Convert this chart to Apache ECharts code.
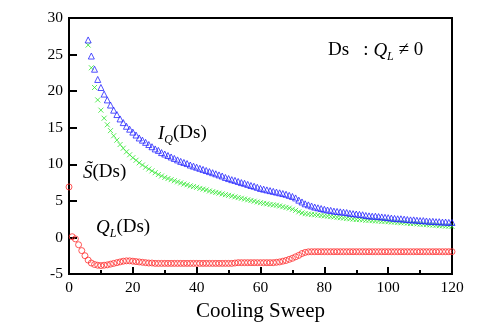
<!DOCTYPE html>
<html>
<head>
<meta charset="utf-8">
<script src="https://cdn.jsdelivr.net/npm/echarts@6/dist/echarts.min.js"></script>
<style>
  html,body{margin:0;padding:0;background:#fff;}
  #chart{width:491px;height:327px;}
</style>
</head>
<body>
<div id="chart"></div>
<script>
// ---- data ----
const qlStart = 0;
const qlVals = [
  6.9, 0.1, -0.2, -1.0, -1.8, -2.5, -3.1, -3.5, -3.7, -3.8,
  -3.85, -3.8, -3.75, -3.65, -3.55, -3.45, -3.35, -3.25, -3.2, -3.2,
  -3.25, -3.3, -3.35, -3.4, -3.45, -3.5, -3.5, -3.55, -3.55, -3.55,
  -3.55, -3.55, -3.55, -3.55, -3.55, -3.55, -3.55, -3.55, -3.55, -3.55,
  -3.55, -3.55, -3.55, -3.55, -3.55, -3.55, -3.55, -3.55, -3.55, -3.55,
  -3.55, -3.55, -3.5, -3.45, -3.45, -3.45, -3.45, -3.45, -3.45, -3.45,
  -3.45, -3.45, -3.45, -3.45, -3.45, -3.4, -3.35, -3.25, -3.15, -3.0,
  -2.85, -2.65, -2.45, -2.2, -2.05, -1.97, -1.95, -1.95, -1.95, -1.95,
  -1.95, -1.95, -1.95, -1.95, -1.95, -1.95, -1.95, -1.95, -1.95, -1.95,
  -1.95, -1.95, -1.95, -1.95, -1.95, -1.95, -1.95, -1.95, -1.95, -1.95,
  -1.95, -1.95, -1.95, -1.95, -1.95, -1.95, -1.95, -1.95, -1.95, -1.95,
  -1.95, -1.95, -1.95, -1.95, -1.95, -1.95, -1.95, -1.95, -1.95, -1.95,
  -1.95
];
const iqStart = 6;
const iqVals = [
  27.0, 24.8, 23.0, 21.6,
  20.5, 19.6, 18.8, 18.1, 17.4, 16.8, 16.2, 15.7, 15.2, 14.8,
  14.4, 14.0, 13.6, 13.3, 13.0, 12.7, 12.4, 12.1, 11.9, 11.6,
  11.4, 11.2, 11.0, 10.8, 10.6, 10.4, 10.25, 10.1, 9.9, 9.75,
  9.6, 9.45, 9.3, 9.15, 9.0, 8.85, 8.7, 8.55, 8.4, 8.2,
  8.05, 7.9, 7.8, 7.65, 7.5, 7.4, 7.25, 7.1, 7.0, 6.85,
  6.7, 6.6, 6.5, 6.4, 6.3, 6.2, 6.1, 6.0, 5.9, 5.75,
  5.6, 5.4, 5.1, 4.85, 4.6, 4.45, 4.3, 4.15, 4.05, 3.95,
  3.85, 3.75, 3.7, 3.6, 3.55, 3.5, 3.45, 3.4, 3.3, 3.25,
  3.2, 3.15, 3.1, 3.0, 2.95, 2.9, 2.9, 2.85, 2.8, 2.75,
  2.7, 2.65, 2.6, 2.55, 2.55, 2.5, 2.45, 2.4, 2.4, 2.35,
  2.3, 2.3, 2.25, 2.2, 2.2, 2.15, 2.15, 2.1, 2.1, 2.05,
  2.05
];
const sStart = 6;
const sVals = [
  26.3, 23.2, 20.5, 18.8,
  17.4, 16.3, 15.4, 14.6, 13.9, 13.3, 12.7, 12.2, 11.7, 11.3,
  10.9, 10.55, 10.2, 9.9, 9.6, 9.35, 9.1, 8.85, 8.6, 8.4,
  8.2, 8.05, 7.9, 7.75, 7.6, 7.45, 7.3, 7.2, 7.05, 6.95,
  6.85, 6.7, 6.6, 6.5, 6.35, 6.25, 6.15, 6.05, 5.95, 5.85,
  5.75, 5.65, 5.55, 5.45, 5.35, 5.25, 5.15, 5.05, 4.95, 4.85,
  4.75, 4.65, 4.6, 4.5, 4.45, 4.4, 4.3, 4.2, 4.1, 4.0,
  3.85, 3.7, 3.5, 3.35, 3.25, 3.2, 3.15, 3.1, 3.05, 3.0,
  2.95, 2.9, 2.85, 2.8, 2.75, 2.7, 2.65, 2.6, 2.55, 2.5,
  2.45, 2.45, 2.4, 2.35, 2.35, 2.3, 2.25, 2.25, 2.2, 2.2,
  2.15, 2.1, 2.1, 2.05, 2.0, 2.0, 1.95, 1.9, 1.9, 1.85,
  1.8, 1.8, 1.75, 1.7, 1.7, 1.65, 1.6, 1.6, 1.55, 1.55,
  1.5
];

const FONT = '"Liberation Serif", "DejaVu Serif", serif';
const BLUE = '#2626ff', GREEN = '#2ee62e', RED = '#ff3030';
const CROSS = 'path://M0,0L10,10M10,0L0,10';

const pairs = (start, vals) => vals.map((v, i) => [start + i, v]);

function scatter(name, data, symbol, size, color){
  return {
    name, type:'scatter', data, symbol, symbolSize:size,
    itemStyle:{color:'none', borderColor:color, borderWidth:1},
    emphasis:{disabled:true}, silent:true
  };
}

// main text centred on the line, subscripts pushed to its bottom
const rich = {
  i:{fontFamily:FONT, fontStyle:'italic', fontSize:19, lineHeight:24, verticalAlign:'middle', fill:'#000'},
  n:{fontFamily:FONT, fontSize:19, lineHeight:24, verticalAlign:'middle', fill:'#000'},
  sub:{fontFamily:FONT, fontStyle:'italic', fontSize:12, lineHeight:12, verticalAlign:'bottom', fill:'#000'}
};
function label(x, y, text){
  return {type:'text', left:x, top:y, silent:true, style:{text, rich, fill:'#000'}};
}

const chart = echarts.init(document.getElementById('chart'), null, {renderer:'canvas'});
chart.setOption({
  animation:false,
  textStyle:{fontFamily:FONT},
  grid:{left:69, right:39, top:18, bottom:53, outerBoundsMode:'none', containLabel:false,
        show:true, borderColor:'#000', borderWidth:2, backgroundColor:'transparent'},
  xAxis:{
    type:'value', min:0, max:120, interval:20,
    name:'Cooling Sweep', nameLocation:'middle', nameGap:27,
    nameTextStyle:{fontFamily:FONT, fontSize:21, color:'#000'},
    axisLine:{onZero:false, lineStyle:{color:'#000', width:2}},
    axisTick:{inside:true, length:7, lineStyle:{color:'#000', width:2}},
    minorTick:{show:true, splitNumber:2, length:4, lineStyle:{color:'#000', width:2}},
    axisLabel:{fontFamily:FONT, fontSize:15.5, color:'#000', margin:6},
    splitLine:{show:false}
  },
  yAxis:{
    type:'value', min:-5, max:30, interval:5,
    axisLine:{show:true, onZero:false, lineStyle:{color:'#000', width:2}},
    axisTick:{show:true, inside:true, length:8, lineStyle:{color:'#000', width:2}},
    axisLabel:{fontFamily:FONT, fontSize:15.5, color:'#000', margin:6},
    splitLine:{show:false}
  },
  series:[
    scatter('QL', pairs(qlStart, qlVals), 'circle', 6, RED),
    scatter('S', pairs(sStart, sVals), CROSS, 5, GREEN),
    scatter('IQ', pairs(iqStart, iqVals), 'triangle', 6, BLUE)
  ],
  graphic:[
    label(158, 124, '{i|I}{sub|Q}{n|(Ds)}'),
    label(83, 163, '{i|S\u0303}{n|(Ds)}'),
    label(96, 218, '{i|Q}{sub|L}{n|(Ds)}'),
    label(328, 41, '{n|Ds   : }{i|Q}{sub|L}{n| \u2260 0}')
  ]
});
</script>
</body>
</html>
